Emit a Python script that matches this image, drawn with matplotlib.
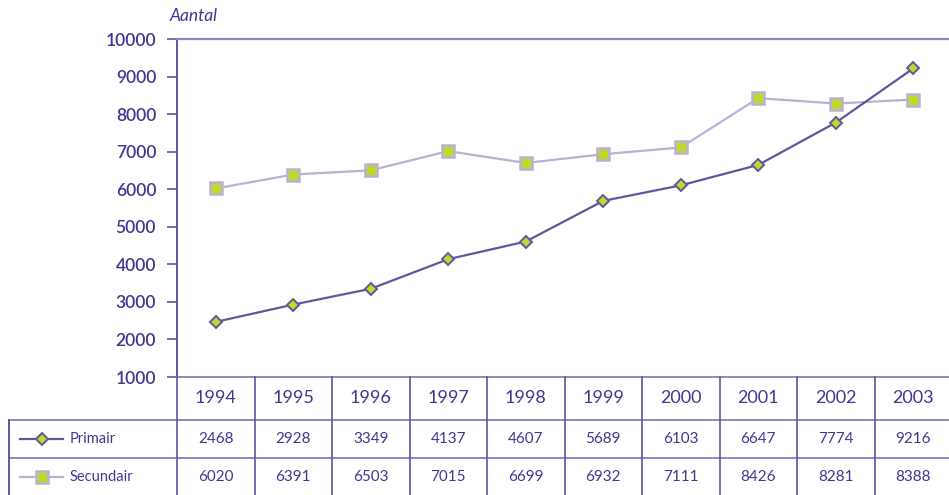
import matplotlib
matplotlib.use("Agg")
import matplotlib.pyplot as plt
from matplotlib.lines import Line2D

years = ["1994", "1995", "1996", "1997", "1998", "1999", "2000", "2001", "2002", "2003"]
primair = [2468, 2928, 3349, 4137, 4607, 5689, 6103, 6647, 7774, 9216]
secundair = [6020, 6391, 6503, 7015, 6699, 6932, 7111, 8426, 8281, 8388]
series_names = ["Primair", "Secundair"]
yticks = [1000, 2000, 3000, 4000, 5000, 6000, 7000, 8000, 9000, 10000]

TEXT = "#3f3790"
DARK = "#62559f"
LIGHT = "#b8b2d6"
LIME = "#c3d62a"
GRID = "#8e86c0"

plt.rcParams['font.family'] = ['Lato', 'DejaVu Sans']

W, H = 949, 495
fig = plt.figure(figsize=(W / 100, H / 100), dpi=100)

def px(x0, y0, x1, y1):
    return [x0 / W, 1 - y1 / H, (x1 - x0) / W, (y1 - y0) / H]

n = len(years)
x = list(range(n))
ax = fig.add_axes(px(177, 39, 952, 377))
ax.set_xlim(-0.5, n - 0.5)
ax.set_ylim(1000, 10000)
ax.plot(x, secundair, color=LIGHT, lw=1.6, marker='s', ms=8.5, mfc=LIME,
        mec=LIGHT, mew=1.8, zorder=3)
ax.plot(x, primair, color=DARK, lw=1.6, marker='D', ms=6, mfc=LIME,
        mec=DARK, mew=1.4, zorder=4)
ax.set_yticks(yticks)
ax.set_yticklabels([str(v) for v in yticks], fontsize=12.5, color=TEXT, fontweight='semibold')
ax.set_xticks([])
ax.tick_params(axis='y', direction='out', length=7, width=1.2, color=DARK, pad=8)
for s in ['right', 'bottom']:
    ax.spines[s].set_visible(False)
ax.spines['left'].set_color(DARK)
ax.spines['left'].set_linewidth(1.4)
ax.spines['top'].set_color(GRID)
ax.spines['top'].set_linewidth(1.6)
ax.text(170 / W, 1 - 16 / H, "Aantal", transform=fig.transFigure, fontsize=12.5,
        style='italic', color=TEXT, ha='left', va='center')

# table
tx0 = -0.5 - (177 - 9) / 77.5
tab = fig.add_axes(px(9, 377, 952, 496))
tab.set_xlim(tx0, n - 0.5)
tab.set_ylim(119, 0)
tab.axis('off')
rows = [0, 43, 81, 119]
tab.plot([-0.5, n - 0.5], [rows[0], rows[0]], color=GRID, lw=1.4, clip_on=False)
for r in rows[1:3]:
    tab.plot([tx0, n - 0.5], [r, r], color=GRID, lw=1.4, clip_on=False)
for i in range(n + 1):
    tab.plot([i - 0.5, i - 0.5], [rows[0], rows[3]], color=DARK, lw=1.2, clip_on=False)
tab.plot([tx0, tx0], [rows[1], rows[3]], color=DARK, lw=1.4, clip_on=False)

for i, yv in enumerate(years):
    tab.text(i, 21, yv, ha='center', va='center', fontsize=13, color=TEXT)
for i in range(n):
    tab.text(i, 62, str(primair[i]), ha='center', va='center', fontsize=11, color=TEXT)
    tab.text(i, 100, str(secundair[i]), ha='center', va='center', fontsize=11, color=TEXT)

# legend samples
lx0 = tx0 + 11 / 77.5
lx1 = tx0 + 54 / 77.5
lxm = (lx0 + lx1) / 2
tab.add_line(Line2D([lx0, lx1], [62, 62], color=DARK, lw=1.6))
tab.plot([lxm], [62], marker='D', ms=6, mfc=LIME, mec=DARK, mew=1.4)
tab.add_line(Line2D([lx0, lx1], [100, 100], color=LIGHT, lw=1.6))
tab.plot([lxm], [100], marker='s', ms=8.5, mfc=LIME, mec=LIGHT, mew=1.8)
tab.text(tx0 + 61 / 77.5, 62, series_names[0], ha='left', va='center', fontsize=10.5, color=TEXT)
tab.text(tx0 + 61 / 77.5, 100, series_names[1], ha='left', va='center', fontsize=10.5, color=TEXT)

fig.savefig("out.png", dpi=100)
